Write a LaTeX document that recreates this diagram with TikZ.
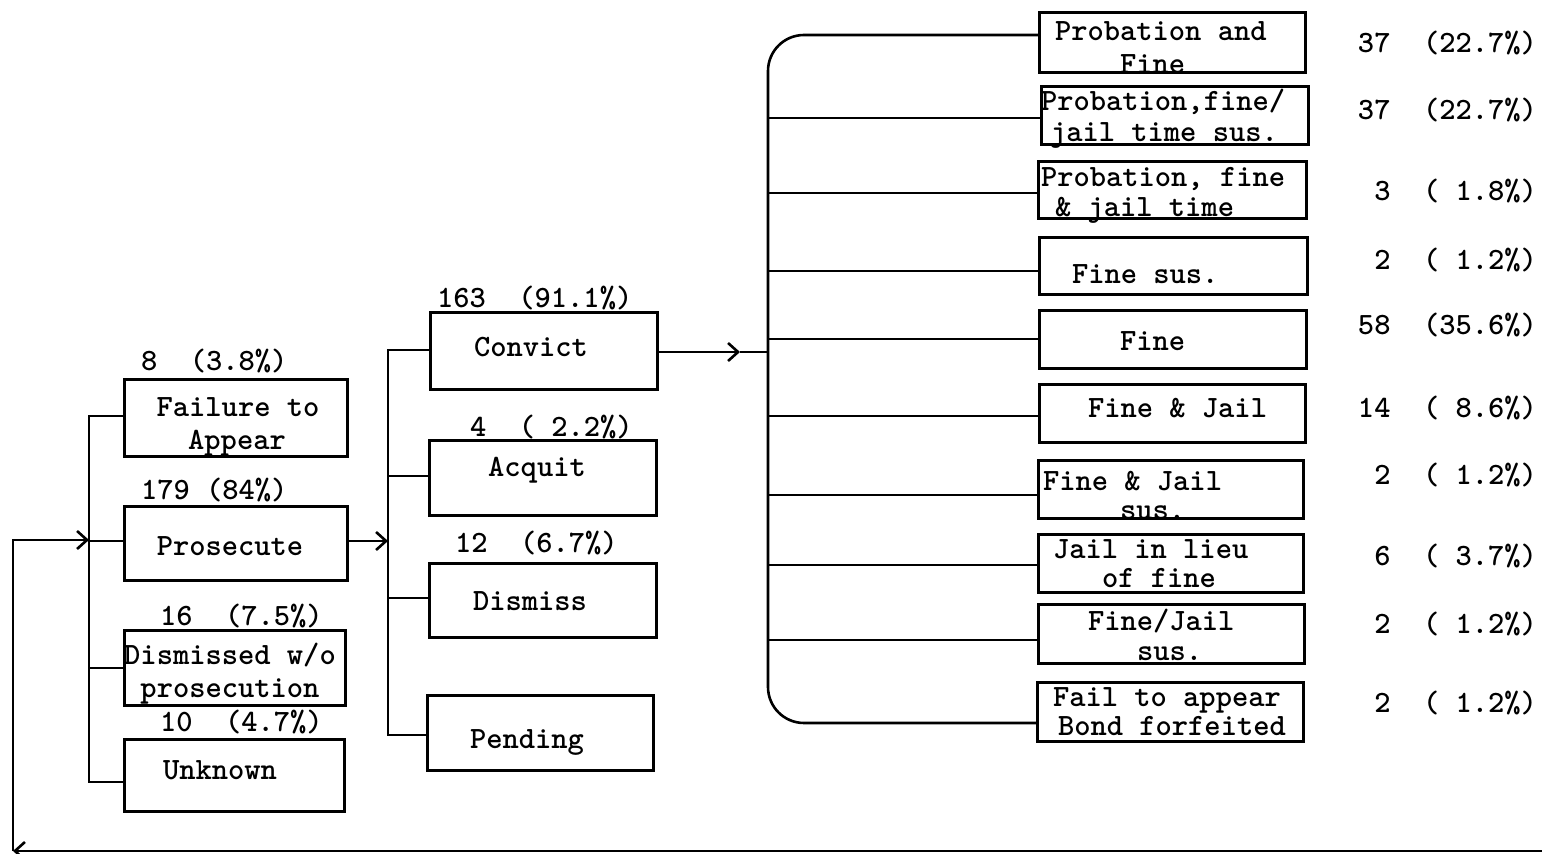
\documentclass[tikz,border=0pt]{standalone}
\usepackage{fontspec}
\setmainfont{Latin Modern Mono Light}
\usetikzlibrary{arrows.meta}
\newcommand{\mkbox}[5]{\node[bx, minimum width={(#4-#2)*0.5pt}, minimum height={(#5-#3)*0.5pt}] (#1) at ({(#2+#4)/2},{(#3+#5)/2}) {};}
\begin{document}
\begin{tikzpicture}[x=0.5pt,y=-0.5pt,
  bx/.style={draw, line width=1.5pt, inner sep=0pt, outer sep=0pt},
  tx/.style={inner sep=0pt, outer sep=0pt, font=\fontsize{15.5}{17}\selectfont\bfseries, text height=10pt, text depth=2pt},
  tw/.style={tx, anchor=west},
  te/.style={tx, anchor=east},
  ln/.style={line width=1.3pt},
  arr/.style={-{Straight Barb[length=5pt,width=9pt,line width=1.3pt]}}]
\useasboundingbox[fill=white] (0,0) rectangle (1542,854);
% left column
\mkbox{fta}{124}{380}{347}{457}
\mkbox{pro}{124}{507}{347}{581}
\mkbox{dwp}{124}{631}{345}{706}
\mkbox{unk}{124}{740}{344}{812}
\node[tx] (tfta1) at (238,409) {Failure to};
\node[tx] (tfta2) at (237,442) {Appear};
\node[tx] (tpro) at (230,548) {Prosecute};
\node[tx] (tdwp1) at (230,657) {Dismissed w/o};
\node[tx] (tdwp2) at (230,690) {prosecution};
\node[tx] (tunk) at (220,772) {Unknown};
\node[tw] (lfta) at (141,363) {8~~(3.8\%)};
\node[tw] (lpro) at (141,492) {179 (84\%)};
\node[tw] (ldwp) at (160,618) {16~~(7.5\%)};
\node[tw] (lunk) at (160,724) {10~~(4.7\%)};
% middle column
\mkbox{cvt}{430}{313}{657}{390}
\mkbox{acq}{429}{441}{656}{516}
\mkbox{dis}{429}{564}{656}{638}
\mkbox{pen}{427}{696}{653}{771}
\node[tx] (tcvt) at (531,349) {Convict};
\node[tx] (tacq) at (537,469) {Acquit};
\node[tx] (tdis) at (530,603) {Dismiss};
\node[tx] (tpen) at (527,740) {Pending};
\node[tw] (lcvt) at (437,300) {163~~(91.1\%)};
\node[tw] (lacq) at (470,429) {4~~(~2.2\%)};
\node[tw] (ldis) at (455,545) {12~~(6.7\%)};
% right column
\mkbox{r1}{1039}{13}{1305}{73}
\mkbox{r2}{1041}{87}{1308}{145}
\mkbox{r3}{1038}{162}{1306}{219}
\mkbox{r4}{1039}{238}{1307}{295}
\mkbox{r5}{1039}{311}{1306}{369}
\mkbox{r6}{1039}{385}{1305}{443}
\mkbox{r7}{1038}{461}{1303}{519}
\mkbox{r8}{1038}{535}{1303}{593}
\mkbox{r9}{1038}{605}{1304}{664}
\mkbox{r10}{1037}{683}{1303}{742}
\node[tw] (tr1a) at (1055,33) {Probation and};
\node[tw] (tr1b) at (1120,66) {Fine};
\node[tw] (tr2a) at (1041,103) {Probation,fine/};
\node[tw] (tr2b) at (1050,134) {jail time sus.};
\node[tw] (tr3a) at (1041,179) {Probation, fine};
\node[tw] (tr3b) at (1055,209) {\& jail time};
\node[tw] (tr4) at (1072,276) {Fine sus.};
\node[tw] (tr5) at (1120,343) {Fine};
\node[tw] (tr6) at (1088,410) {Fine \& Jail};
\node[tw] (tr7a) at (1043,483) {Fine \& Jail};
\node[tw] (tr7b) at (1120,512) {sus.};
\node[tw] (tr8a) at (1053,551) {Jail in lieu};
\node[tw] (tr8b) at (1102,580) {of fine};
\node[tw] (tr9a) at (1088,623) {Fine/Jail};
\node[tw] (tr9b) at (1137,653) {sus.};
\node[tw] (tr10a) at (1053,699) {Fail to appear};
\node[tw] (tr10b) at (1058,728) {Bond forfeited};
% right numbers
\node[te] (n1) at (1537,45) {37~~(22.7\%)};
\node[te] (n2) at (1537,112) {37~~(22.7\%)};
\node[te] (n3) at (1537,193) {3~~(~1.8\%)};
\node[te] (n4) at (1537,262) {2~~(~1.2\%)};
\node[te] (n5) at (1537,327) {58~~(35.6\%)};
\node[te] (n6) at (1537,410) {14~~(~8.6\%)};
\node[te] (n7) at (1537,477) {2~~(~1.2\%)};
\node[te] (n8) at (1537,558) {6~~(~3.7\%)};
\node[te] (n9) at (1537,626) {2~~(~1.2\%)};
\node[te] (n10) at (1537,705) {2~~(~1.2\%)};
% left bus
\coordinate (lb1) at (89,416);
\coordinate (lb2) at (89,541);
\coordinate (lb3) at (89,668);
\coordinate (lb4) at (89,782);
\draw[ln] (fta.west |- lb1) -- (lb1) -- (lb4) -- (unk.west |- lb4);
\draw[ln] (lb2) -- (pro.west |- lb2);
\draw[ln] (lb3) -- (dwp.west |- lb3);
% feedback loop
\coordinate (fbR) at (1542,851);
\coordinate (fbL) at (13,851);
\coordinate (fbT) at (13,540);
\coordinate (lbA) at (89,540);
\draw[ln,arr] (fbR) -- (fbL);
\draw[ln,arr] (fbL) -- (fbT) -- (lbA);
% middle bus
\coordinate (mb1) at (388,350);
\coordinate (mb2) at (388,476);
\coordinate (mb3) at (388,598);
\coordinate (mb4) at (388,735);
\coordinate (mbP) at (388,541);
\draw[ln] (cvt.west |- mb1) -- (mb1) -- (mb4) -- (pen.west |- mb4);
\draw[ln] (mb2) -- (acq.west |- mb2);
\draw[ln] (mb3) -- (dis.west |- mb3);
\draw[ln,arr] (pro.east |- mbP) -- (mbP);
% convict to right bus
\coordinate (ca) at (740,352);
\coordinate (rbC) at (768,352);
\draw[ln,arr] (cvt.east |- ca) -- (ca);
\draw[ln] (ca) -- (rbC);
% right bus
\coordinate (rb1) at (768,35);
\coordinate (rb2) at (768,118);
\coordinate (rb3) at (768,193);
\coordinate (rb4) at (768,271);
\coordinate (rb5) at (768,339);
\coordinate (rb6) at (768,416);
\coordinate (rb7) at (768,495);
\coordinate (rb8) at (768,565);
\coordinate (rb9) at (768,640);
\coordinate (rb10) at (768,723);
\draw[ln, rounded corners=18pt] (r1.west |- rb1) -- (rb1) -- (rb10) -- (r10.west |- rb10);
\foreach \i in {2,...,9}{\draw[ln] (rb\i) -- (r\i.west |- rb\i);}
\end{tikzpicture}
\end{document}
